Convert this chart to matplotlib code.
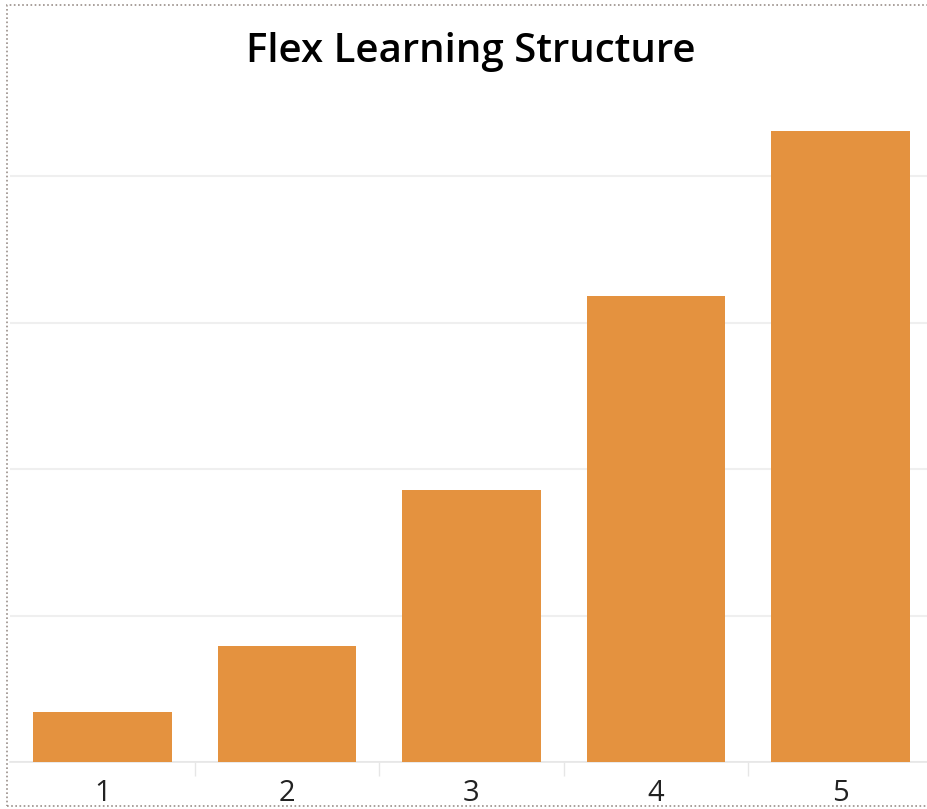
import matplotlib.pyplot as plt
from matplotlib.patches import Rectangle

# data
categories = ['1', '2', '3', '4', '5']
values = [3.4, 7.9, 18.6, 31.8, 43.1]
grid_ticks = [0, 10, 20, 30, 40]

bar_color = '#e4923f'
grid_color = '#efefef'

plt.rcParams['font.family'] = ['Open Sans', 'DejaVu Sans']

fig = plt.figure(figsize=(9.27, 8.09), dpi=100)
W, H = 927, 809
# axes spans category cells from 10px to 933px (last cell clipped by figure)
ax = fig.add_axes([10 / W, 1 - 762 / H, 923 / W, (762 - 103) / H])

x = range(1, len(categories) + 1)
ax.bar(x, values, width=0.75, color=bar_color, zorder=3)

ax.set_xlim(0.5, 5.5)
ax.set_ylim(0, 45)
ax.set_yticks(grid_ticks)
ax.set_yticklabels([])
ax.tick_params(axis='y', length=0)
ax.grid(axis='y', color=grid_color, linewidth=1.5, zorder=0)

ax.set_xticks(list(x))
ax.set_xticklabels(categories, fontsize=21, color='#222222')
ax.tick_params(axis='x', length=0, pad=12)
# separators between categories
ax.set_xticks([1.5, 2.5, 3.5, 4.5], minor=True)
ax.tick_params(axis='x', which='minor', length=10, color='#e6e6e6', width=1)

for s in ['top', 'right', 'left']:
    ax.spines[s].set_visible(False)
ax.spines['bottom'].set_color('#e6e6e6')
ax.spines['bottom'].set_linewidth(1.2)

fig.text(471 / W, 1 - 52 / H, 'Flex Learning Structure', ha='center', va='center',
         fontsize=29, fontweight='semibold', color='black')

# dotted frame
fig.patches.append(Rectangle((7 / W, 1 - 806 / H), 1.0, (806 - 5) / H,
                             transform=fig.transFigure, fill=False,
                             edgecolor='#9a8f8a', linestyle=(0, (1, 1.5)),
                             linewidth=1.2))

fig.savefig('out.png', dpi=100)
